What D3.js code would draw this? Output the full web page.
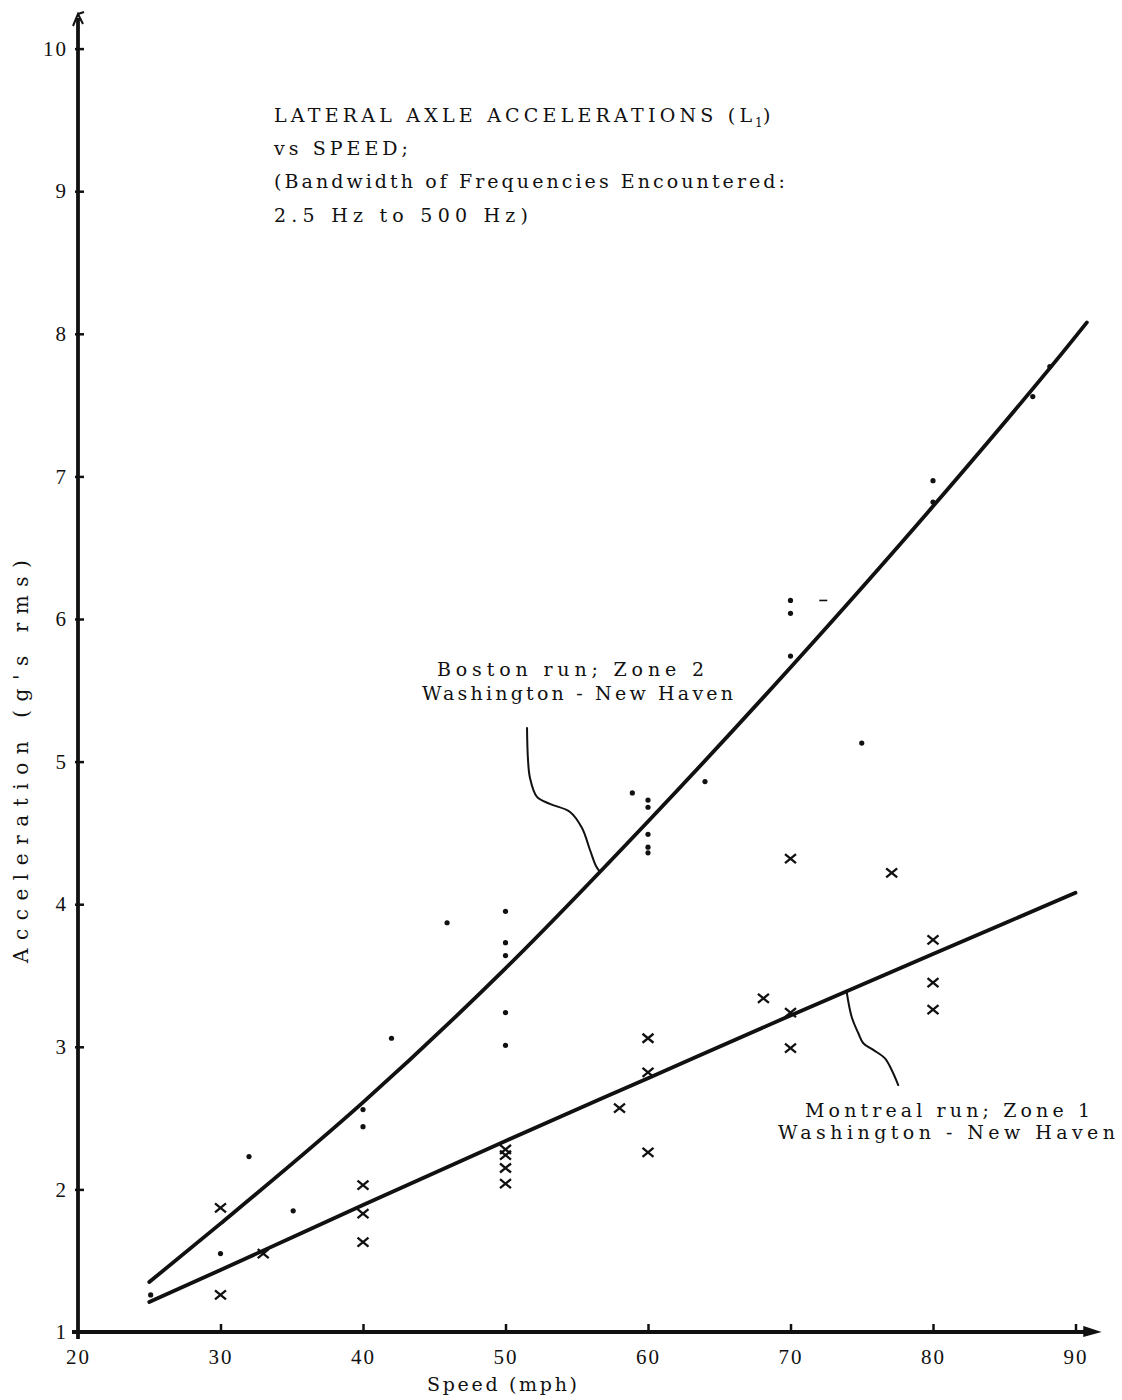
<!DOCTYPE html>
<html>
<head>
<meta charset="utf-8">
<script src="https://cdn.jsdelivr.net/npm/d3@7"></script>
<style>
  html, body { margin: 0; padding: 0; background: #fff; }
  svg { display: block; }
</style>
</head>
<body>
<svg id="chart" width="1122" height="1400"></svg>
<script>
// Axis ticks
const speedTicks = [20, 30, 40, 50, 60, 70, 80, 90];
const accelTicks = [1, 2, 3, 4, 5, 6, 7, 8, 9, 10];

// Faired curves through the two test runs: [speed mph, accel g rms]
const bostonCurve = [[25, 1.35], [30, 1.76], [40, 2.61], [50, 3.55], [60, 4.58], [70, 5.66], [80, 6.79], [90, 7.98], [90.8, 8.08]];
const montrealCurve = [[25, 1.21], [30, 1.435], [40, 1.89], [50, 2.34], [60, 2.78], [70, 3.22], [80, 3.65], [90, 4.08]];

// Measured points, Boston run (dots)
const bostonPoints = [
  [25.1, 1.26], [30, 1.55], [32, 2.23], [35.1, 1.85], [40, 2.44], [40, 2.56], [42, 3.06], [45.9, 3.87],
  [50, 3.95], [50, 3.73], [50, 3.64], [50, 3.24], [50, 3.01], [58.9, 4.78],
  [60, 4.73], [60, 4.68], [60, 4.49], [60, 4.40], [60, 4.36], [64, 4.86],
  [70, 6.13], [70, 6.04], [70, 5.74], [75, 5.13], [80, 6.97], [80, 6.82], [87, 7.56], [88.2, 7.77]
];
const bostonDash = [[72.3, 6.13]];

// Measured points, Montreal run (crosses)
const montrealPoints = [
  [30, 1.87], [30, 1.26], [33, 1.55], [40, 2.03], [40, 1.83], [40, 1.63],
  [50, 2.28], [50, 2.24], [50, 2.15], [50, 2.04], [58, 2.57],
  [60, 3.06], [60, 2.82], [60, 2.26], [68.1, 3.34], [70, 3.24], [70, 2.99], [70, 4.32],
  [77.1, 4.22], [80, 3.75], [80, 3.45], [80, 3.26]
];

// Callout leaders from the labels to the curves
const bostonLeader = [[51.51, 5.236], [51.58, 5.011], [51.72, 4.885], [52.21, 4.752], [53.12, 4.703], [54.53, 4.647], [55.37, 4.534], [55.93, 4.380], [56.35, 4.268], [56.63, 4.226]];
const montrealLeader = [[73.94, 3.386], [74.29, 3.211], [74.76, 3.095], [75.11, 3.025], [75.81, 2.978], [76.63, 2.919], [77.10, 2.837], [77.56, 2.732]];

const titleLines = ["LATERAL AXLE ACCELERATIONS (L", "vs SPEED;", "(Bandwidth of Frequencies Encountered:", "2.5 Hz to 500 Hz)"];
const bostonLabel = ["Boston run; Zone 2", "Washington - New Haven"];
const montrealLabel = ["Montreal run; Zone 1", "Washington  - New Haven"];

const ink = "#111";
const type = "'DejaVu Serif', 'Liberation Serif', serif";
const digits = "'Liberation Serif', 'DejaVu Serif', serif";

const svg = d3.select("#chart");
const x = d3.scaleLinear().domain([20, 90]).range([78, 1075.5]);
const y = d3.scaleLinear().domain([1, 10]).range([1332, 48.6]);

// ---- axes ----
const xAxis = d3.axisBottom(x).tickValues(speedTicks).tickSize(-8).tickSizeOuter(0).tickPadding(17).tickFormat(d3.format("d"));
const gx = svg.append("g").attr("transform", `translate(0,${y(1)})`).call(xAxis);
gx.select(".domain").remove();
gx.selectAll(".tick line").attr("stroke", ink).attr("stroke-width", 2.5);
gx.selectAll(".tick").filter(d => d === 20).select("line").remove();
gx.selectAll(".tick text").attr("fill", ink).attr("font-family", digits).attr("font-size", 21).attr("letter-spacing", 2);

const yAxis = d3.axisLeft(y).tickValues(accelTicks).tickSize(-6).tickSizeOuter(0).tickPadding(10).tickFormat(d3.format("d"));
const gy = svg.append("g").attr("transform", `translate(${x(20)},0)`).call(yAxis);
gy.select(".domain").remove();
gy.selectAll(".tick line").attr("stroke", ink).attr("stroke-width", 2.5).attr("x1", -3);
gy.selectAll(".tick").filter(d => d === 1).select("line").remove();
gy.selectAll(".tick text").attr("fill", ink).attr("font-family", digits).attr("font-size", 21).attr("letter-spacing", 2);

// Main axis lines with arrowheads
svg.append("line").attr("x1", x(20)).attr("x2", x(20)).attr("y1", y(1) + 7).attr("y2", 18)
  .attr("stroke", ink).attr("stroke-width", 3.8);
svg.append("path").attr("d", `M${x(20) - 5},26 L${x(20)},14 L${x(20) + 5},24 M${x(20)},14 L${x(20) + 6},12`)
  .attr("fill", "none").attr("stroke", ink).attr("stroke-width", 2);
svg.append("line").attr("x1", x(20) - 6).attr("x2", 1090).attr("y1", y(1)).attr("y2", y(1))
  .attr("stroke", ink).attr("stroke-width", 3.8);
svg.append("path").attr("d", `M1084,${y(1) - 5} L1099,${y(1)} L1084,${y(1) + 4} Z`)
  .attr("fill", ink).attr("stroke", ink).attr("stroke-width", 1.5);

// Typed text helper: fixed run length so the typewriter pitch is kept
function typed(g, tx, ty, str, len, size) {
  return g.append("text").attr("x", tx).attr("y", ty)
    .attr("font-family", type).attr("font-size", size || 19).attr("fill", ink)
    .attr("textLength", len).attr("lengthAdjust", "spacing").text(str);
}

// ---- axis titles ----
typed(svg, 427, 1391, "Speed (mph)", 150, 19);
svg.append("text").attr("transform", `translate(28,${y(5)}) rotate(-90)`).attr("text-anchor", "middle")
  .attr("font-family", type).attr("font-size", 20).attr("fill", ink)
  .attr("textLength", 403).attr("lengthAdjust", "spacing")
  .text("Acceleration (g's rms)");

// ---- title block ----
const title = svg.append("g");
const titleBase = [122, 155, 188, 222];
const titleLen = [478, 134, 511, 254];
titleLines.forEach((t, i) => {
  typed(title, 274, titleBase[i], t, titleLen[i]);
  if (i === 0) {
    title.append("text").attr("x", 755).attr("y", titleBase[0] + 5)
      .attr("font-family", type).attr("font-size", 12).attr("fill", ink).text("1");
    title.append("text").attr("x", 763).attr("y", titleBase[0])
      .attr("font-family", type).attr("font-size", 19).attr("fill", ink).text(")");
  }
});

// ---- curves ----
const line = d3.line().x(d => x(d[0])).y(d => y(d[1])).curve(d3.curveMonotoneX);
[bostonCurve, montrealCurve].forEach(c => {
  svg.append("path").attr("d", line(c)).attr("fill", "none").attr("stroke", ink)
    .attr("stroke-width", 3.8).attr("stroke-linecap", "round");
});

// ---- leaders ----
const leader = d3.line().x(d => x(d[0])).y(d => y(d[1])).curve(d3.curveCatmullRom);
[bostonLeader, montrealLeader].forEach(c => {
  svg.append("path").attr("d", leader(c)).attr("fill", "none").attr("stroke", ink)
    .attr("stroke-width", 2).attr("stroke-linecap", "round");
});

// ---- points ----
svg.append("g").selectAll("circle").data(bostonPoints).join("circle")
  .attr("cx", d => x(d[0])).attr("cy", d => y(d[1])).attr("r", 2.6).attr("fill", ink);
svg.append("g").selectAll("line").data(bostonDash).join("line")
  .attr("x1", d => x(d[0]) - 4).attr("x2", d => x(d[0]) + 4).attr("y1", d => y(d[1])).attr("y2", d => y(d[1]))
  .attr("stroke", ink).attr("stroke-width", 1.6);
svg.append("g").selectAll("path").data(montrealPoints).join("path")
  .attr("transform", d => `translate(${x(d[0])},${y(d[1])})`)
  .attr("d", "M-5.5,-4.5L5.5,4.5M-5.5,4.5L5.5,-4.5")
  .attr("fill", "none").attr("stroke", ink).attr("stroke-width", 2.3);

// ---- callout labels ----
const lab = svg.append("g");
typed(lab, 437, 676, bostonLabel[0], 267);
typed(lab, 422, 700, bostonLabel[1], 311);
typed(lab, 805, 1117, montrealLabel[0], 285);
typed(lab, 778, 1139, montrealLabel[1], 337);
</script>
</body>
</html>
